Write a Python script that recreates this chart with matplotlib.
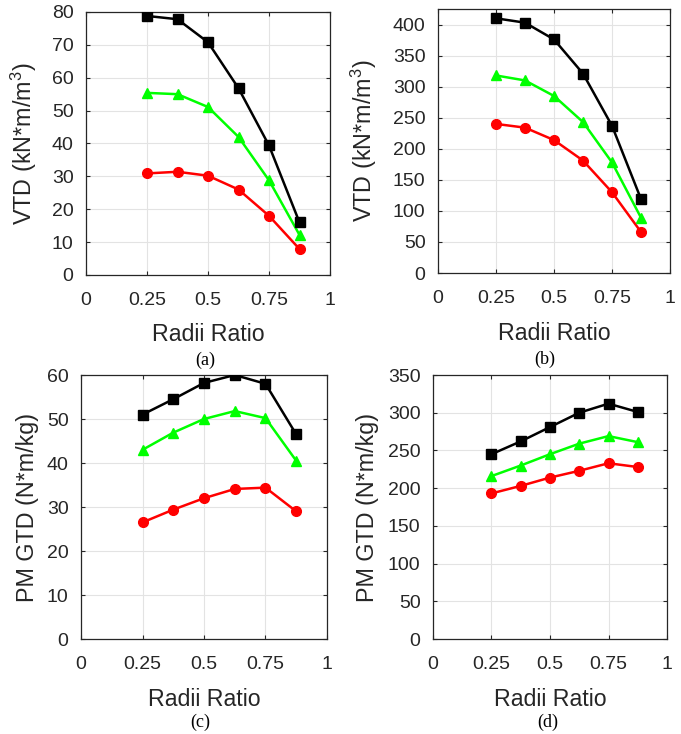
import matplotlib
matplotlib.use("Agg")
import matplotlib.pyplot as plt

plt.rcParams['font.family'] = ['Liberation Sans', 'DejaVu Sans']
plt.rcParams['mathtext.default'] = 'regular'

radii_ratio = [0.25, 0.375, 0.5, 0.625, 0.75, 0.875]

# (a) VTD kN*m/m^3
vtd_a_black = [78.8, 77.8, 70.8, 56.8, 39.4, 16.0]
vtd_a_green = [55.4, 55.0, 51.1, 42.0, 28.8, 12.2]
vtd_a_red = [30.9, 31.4, 30.2, 26.0, 18.0, 7.9]

# (b) VTD kN*m/m^3
vtd_b_black = [410, 403, 376, 321, 237, 119]
vtd_b_green = [318, 310, 285, 243, 178, 89]
vtd_b_red = [240, 234, 214, 181, 130, 66]

# (c) PM GTD N*m/kg
gtd_c_black = [51.0, 54.5, 58.2, 60.0, 58.0, 46.5]
gtd_c_green = [43.0, 46.9, 50.0, 51.8, 50.2, 40.5]
gtd_c_red = [26.5, 29.4, 32.0, 34.1, 34.4, 29.0]

# (d) PM GTD N*m/kg
gtd_d_black = [245, 262, 281, 300, 312, 301]
gtd_d_green = [216, 230, 245, 259, 269, 261]
gtd_d_red = [193, 203, 214, 223, 233, 228]

xticks = [0, 0.25, 0.5, 0.75, 1]
xtick_labels = ['0', '0.25', '0.5', '0.75', '1']

W, H = 681, 734
fig = plt.figure(figsize=(W / 100, H / 100), dpi=100)

panels = [
    dict(rect=(86, 12, 330, 275), data=(vtd_a_black, vtd_a_green, vtd_a_red),
         ylim=(0, 80), yticks=list(range(0, 81, 10)), ylabel=r'VTD (kN*m/m$^3$)',
         cap='(a)', cap_xy=(205, 360), ylab_x=39),
    dict(rect=(438, 9, 670, 273), data=(vtd_b_black, vtd_b_green, vtd_b_red),
         ylim=(0, 425), yticks=list(range(0, 401, 50)), ylabel=r'VTD (kN*m/m$^3$)',
         cap='(b)', cap_xy=(545, 359), ylab_x=379),
    dict(rect=(81, 375, 327, 639), data=(gtd_c_black, gtd_c_green, gtd_c_red),
         ylim=(0, 60), yticks=list(range(0, 61, 10)), ylabel='PM GTD (N*m/kg)',
         cap='(c)', cap_xy=(200, 722), ylab_x=39),
    dict(rect=(433, 375, 667, 639), data=(gtd_d_black, gtd_d_green, gtd_d_red),
         ylim=(0, 350), yticks=list(range(0, 351, 50)), ylabel='PM GTD (N*m/kg)',
         cap='(d)', cap_xy=(548, 722), ylab_x=379),
]

tick_color = '#262626'
for p in panels:
    l, t, r, b = p['rect']
    ax = fig.add_axes([l / W, 1 - b / H, (r - l) / W, (b - t) / H])
    blk, grn, red = p['data']
    ax.plot(radii_ratio, blk, color='black', lw=1.8, marker='s', ms=7, zorder=5)
    ax.plot(radii_ratio, grn, color='#00FF00', lw=1.8, marker='^', ms=7.5, zorder=4)
    ax.plot(radii_ratio, red, color='#FF0000', lw=1.8, marker='o', ms=7, zorder=3)
    ax.set_xlim(0, 1)
    ax.set_ylim(*p['ylim'])
    ax.set_xticks(xticks)
    ax.set_xticklabels(xtick_labels)
    ax.set_yticks(p['yticks'])
    ax.grid(True, color='#e3e3e3', lw=0.8)
    ax.set_axisbelow(True)
    ax.tick_params(direction='in', top=True, right=True, length=3, width=0.8,
                   colors=tick_color, labelsize=14)
    ax.tick_params(axis='x', pad=12)
    ax.tick_params(axis='y', pad=9)
    for s in ax.spines.values():
        s.set_color(tick_color)
        s.set_linewidth(0.9)
    ax.set_xlabel('Radii Ratio', fontsize=16.7, color=tick_color)
    ax.xaxis.set_label_coords(0.5, -48.5 / (b - t))
    ax.set_ylabel(p['ylabel'], fontsize=16.8, color=tick_color)
    ax.yaxis.set_label_coords((p['ylab_x'] - l) / (r - l), 0.5)
    cx, cy = p['cap_xy']
    fig.text(cx / W, 1 - cy / H, p['cap'], ha='center', va='center',
             family=['Liberation Serif', 'DejaVu Serif'], fontsize=13, color='black')

fig.savefig('out.png', dpi=100)
